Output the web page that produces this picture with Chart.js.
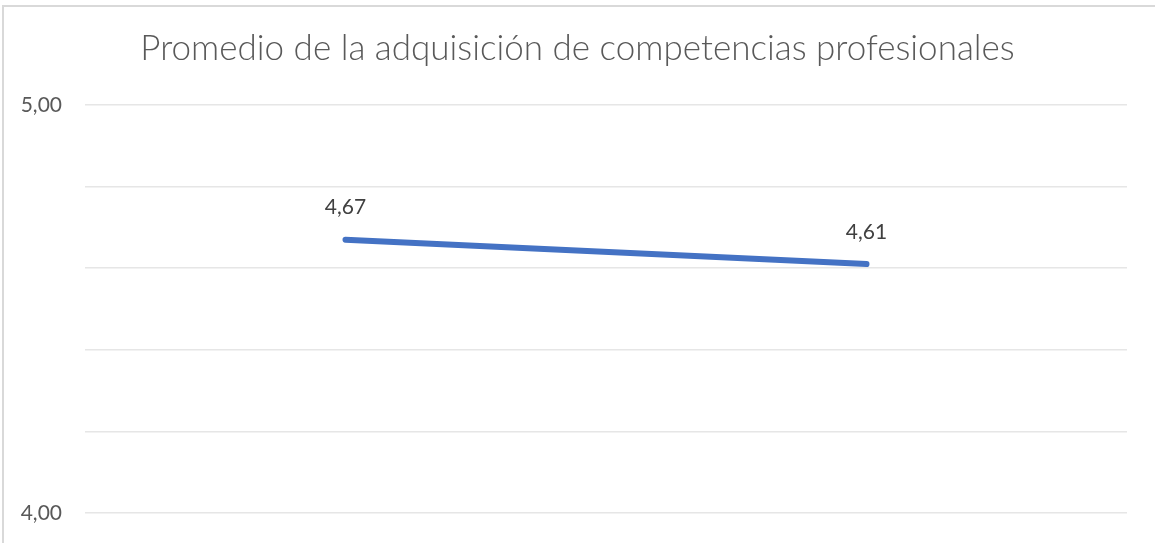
<!DOCTYPE html>
<html>
<head>
<meta charset="utf-8">
<script src="https://cdn.jsdelivr.net/npm/chart.js@4"></script>
<style>
    html, body { margin: 0; padding: 0; background: #fff; overflow: hidden; }
    #frame {
        position: absolute; left: 2px; top: 5px; width: 1200px; height: 600px;
        border-left: 2px solid #d9d9d9; border-top: 2px solid #d9d9d9;
    }
    #chart { position: absolute; left: 0; top: 0; }
</style>
</head>
<body>
<div id="frame"></div>
<canvas id="chart" width="1155" height="543"></canvas>
<script>
const titleText = 'Promedio de la adquisición de competencias profesionales';
const categories = ['1', '2'];
const promedio = [4.67, 4.61];
const yMin = 4;
const yMax = 5;
const yStep = 0.2;
const yLabeled = [4, 5];

const fmt = v => v.toFixed(2).replace('.', ',');

// draws the value above each point
const valueLabels = {
    id: 'valueLabels',
    afterDatasetsDraw(chart) {
        const ctx = chart.ctx;
        const meta = chart.getDatasetMeta(0);
        ctx.save();
        ctx.font = '21px Lato, "Open Sans", sans-serif';
        ctx.fillStyle = '#404040';
        ctx.textAlign = 'center';
        ctx.textBaseline = 'middle';
        meta.data.forEach((pt, i) => {
            ctx.fillText(fmt(promedio[i]), pt.x, pt.y - 32);
        });
        ctx.restore();
    }
};

const ctx = document.getElementById('chart').getContext('2d');
new Chart(ctx, {
    type: 'line',
    data: {
        labels: categories,
        datasets: [{
            data: promedio,
            borderColor: '#4472c4',
            borderWidth: 6,
            borderCapStyle: 'round',
            pointRadius: 0,
            tension: 0
        }]
    },
    options: {
        responsive: false,
        animation: false,
        layout: { padding: { left: 0, right: 0, top: 0, bottom: 30 } },
        plugins: {
            legend: { display: false },
            tooltip: { enabled: false },
            title: {
                display: true,
                text: titleText,
                color: '#595959',
                font: { family: 'Lato, "Open Sans", sans-serif', size: 35, weight: '300' },
                padding: { top: 28, bottom: 35 }
            }
        },
        scales: {
            x: {
                display: false,
                offset: true
            },
            y: {
                min: yMin,
                max: yMax,
                afterFit(scale) {
                    scale.width = 85;
                    // tick padding is horizontal only here, keep it out of the vertical room
                    scale.paddingTop = 13;
                    scale.paddingBottom = 13;
                },
                afterBuildTicks(scale) {
                    const t = [];
                    for (let v = yMin; v <= yMax + 1e-9; v += yStep) t.push({ value: Math.round(v * 10) / 10 });
                    scale.ticks = t;
                },
                border: { display: false },
                grid: { color: '#e6e6e6', lineWidth: 1.5, drawTicks: false },
                ticks: {
                    padding: 23,
                    color: '#595959',
                    font: { family: 'Lato, "Open Sans", sans-serif', size: 21 },
                    callback: v => yLabeled.includes(v) ? fmt(v) : ''
                }
            },
            // empty right-hand axis, only keeps the plot away from the right edge
            yRight: {
                position: 'right',
                afterFit(scale) { scale.width = 28; },
                grid: { display: false },
                border: { display: false },
                ticks: { display: false }
            }
        }
    },
    plugins: [valueLabels]
});
</script>
</body>
</html>
